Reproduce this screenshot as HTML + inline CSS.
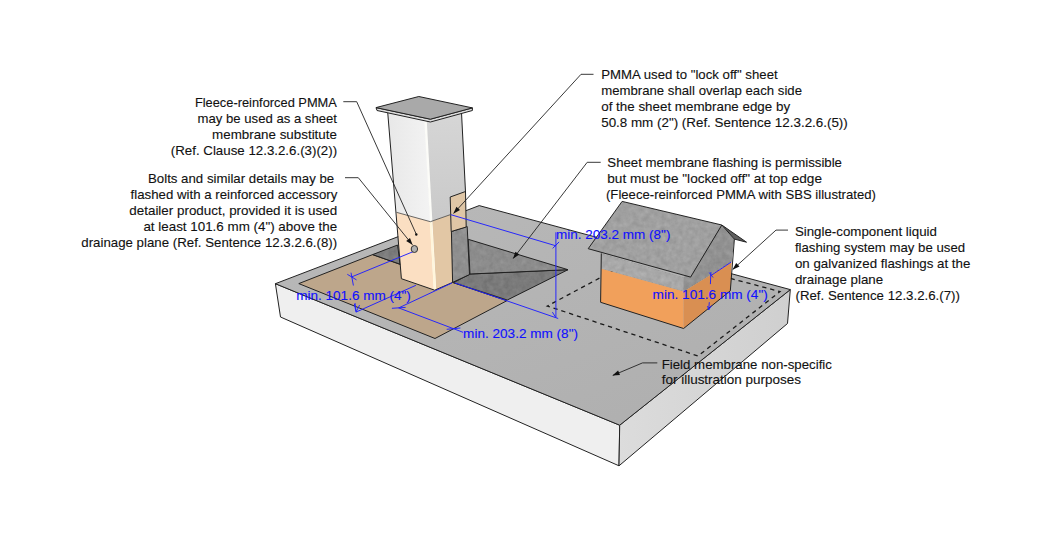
<!DOCTYPE html>
<html><head><meta charset="utf-8">
<style>
html,body{margin:0;padding:0;background:#fff;width:1050px;height:547px;overflow:hidden}
svg{display:block}
text{font-family:"Liberation Sans",sans-serif;font-size:13.5px;fill:#111;stroke:#111;stroke-width:0.12}
.b text{fill:#1010ff;stroke:#1010ff}
.ol{stroke:#222;stroke-width:1.0;stroke-linejoin:round}
.ld{stroke:#222;stroke-width:0.9;fill:none}
.bl{stroke:#2020ff;stroke-width:0.95;fill:none}
</style></head>
<body>
<svg width="1050" height="547" viewBox="0 0 1050 547">
<defs>
<marker id="ah" markerWidth="10" markerHeight="10" refX="0" refY="0" viewBox="-8 -4 9 8" orient="auto" markerUnits="userSpaceOnUse">
<path d="M0.5,0 L-6,-2.2 L-6,2.2 z" fill="#111"/></marker>
<linearGradient id="gTop" x1="0" y1="0" x2="1" y2="1">
<stop offset="0" stop-color="#b9b9b9"/><stop offset="1" stop-color="#aeaeae"/></linearGradient>
<linearGradient id="gRight" x1="0" y1="0" x2="1" y2="0">
<stop offset="0" stop-color="#dcdcdc"/><stop offset="1" stop-color="#cfcfcf"/></linearGradient>
<linearGradient id="gCL" x1="0" y1="0" x2="1" y2="0"><stop offset="0" stop-color="#e8e8e8"/><stop offset="1" stop-color="#f3f3f3"/></linearGradient>
<linearGradient id="gCR" x1="0" y1="0" x2="0" y2="1"><stop offset="0" stop-color="#d6d6d6"/><stop offset="1" stop-color="#c9c9c9"/></linearGradient>
<filter id="tex" x="0" y="0" width="100%" height="100%" color-interpolation-filters="sRGB">
<feTurbulence type="fractalNoise" baseFrequency="0.18" numOctaves="3" seed="7" result="n"/>
<feColorMatrix in="n" type="matrix" values="0.5 0.5 0 0 0  0.5 0.5 0 0 0  0.5 0.5 0 0 0  0 0 0 0 1" result="g"/>
<feComposite in="SourceGraphic" in2="g" operator="arithmetic" k1="0" k2="1" k3="0.16" k4="-0.08" result="m"/>
<feComposite in="m" in2="SourceGraphic" operator="in"/>
</filter>
</defs>

<!-- SLAB -->
<polygon class="ol" points="275.4,283.7 619.7,425.2 619,465.8 280.5,317" fill="#efefef"/>
<polygon class="ol" points="619.7,425.2 790.3,289.6 787.5,323.5 619,465.8" fill="url(#gRight)"/>
<polygon class="ol" points="275.4,283.7 479.2,205.6 790.3,289.6 619.7,425.2" fill="url(#gTop)"/>

<!-- tan membrane -->
<polygon class="ol" points="298.8,283.6 372.6,254.6 402,265 453.5,282.7 506.9,300.7 435,338.5" fill="#bda68b" stroke-width="0.9"/>
<!-- dark small -->
<polygon points="372.6,254.6 397.6,245 400,264.2" fill="#7c7c7c" filter="url(#tex)"/>
<polygon class="ol" points="372.6,254.6 397.6,245 400,264.2" fill="none" stroke-width="0.9"/>
<!-- dark big -->
<polygon points="470,274 568,269.7 507.3,300 453.5,282.7" fill="#7a7a7a" filter="url(#tex)"/>
<polygon class="ol" points="470,274 568,269.7 507.3,300 453.5,282.7" fill="none" stroke-width="0.9"/>
<polygon points="468.2,239.3 568,269.7 470,274" fill="#8c8c8c" filter="url(#tex)"/>
<polygon class="ol" points="468.2,239.3 568,269.7 470,274" fill="none" stroke-width="0.9"/>

<!-- dashed rect -->
<polyline points="642.8,255 547.3,306 698,356 780,291.6 642.8,255" fill="none" stroke="#1a1a1a" stroke-width="1.3" stroke-dasharray="4.3,3.9"/>

<!-- CHIMNEY -->
<!-- upper left face -->
<polygon points="387.6,111 425,120.5 430.4,221.7 396.4,212.3" fill="url(#gCL)"/>
<!-- upper right face -->
<polygon points="425,120.5 461.5,112.6 465.5,192 450.5,214.6 430.4,221.7" fill="url(#gCR)"/>
<!-- peach left -->
<polygon points="396.4,212.3 430.4,221.7 434.7,290.2 401.4,278.7" fill="#fbdfc2"/>
<!-- peach right -->
<polygon points="430.4,221.7 450.5,214.6 452.6,282.4 434.7,290.2" fill="#e2c7a5"/>
<!-- dark strip -->
<polygon points="451.4,231.5 467.2,226.5 469.5,274.6 452.6,282.4" fill="#8f8f8f" filter="url(#tex)"/>
<polygon class="ol" points="451.4,231.5 467.2,226.5 469.5,274.6 452.6,282.4" fill="none" stroke-width="0.9"/>
<!-- lock-off strip -->
<polygon class="ol" points="450.2,197 465.5,191.5 466.2,227 451.2,231.5" fill="#dfc6a6" stroke-width="0.9"/>
<!-- front highlight -->
<line x1="425.6" y1="121" x2="435" y2="290" stroke="#fcfcf8" stroke-width="2.4"/>
<line x1="430.8" y1="222" x2="435" y2="290" stroke="#fff6dc" stroke-width="2.2"/>
<!-- outlines -->
<polyline class="ol" fill="none" points="387.6,111 401.4,278.7 434.7,290.2 452.6,282.4"/>
<polyline class="ol" fill="none" points="461.5,112.6 465.5,192"/>
<polyline fill="none" stroke="#444" stroke-width="0.8" points="396.4,212.3 430.4,221.7 450.5,214.6"/>
<!-- cap -->
<polygon class="ol" points="376,107.6 430.4,119.2 472.4,107.9 472.4,110.5 430.4,122 377,110.5" fill="#dcdcdc" stroke-width="0.9"/>
<polygon class="ol" points="376,107.6 418.8,96.5 472.4,107.9 430.4,119.2" fill="#a9a9a9"/>

<!-- HOUSE -->
<!-- front wall -->
<polygon points="601.3,253.4 685,277.8 683.6,291.5 601.3,268.7" fill="#a8a8a8" filter="url(#tex)"/>
<polygon points="601.3,268.7 683.6,291.5 683.6,328.5 600.6,302.3" fill="#f1a05b"/>
<!-- right wall -->
<polygon points="683.6,277.8 721.8,225 734.4,239.1 731.7,262 683.6,291.5" fill="#919191" filter="url(#tex)"/>
<polygon points="683.6,291.5 731.7,262 730.3,290.8 683.6,328.5" fill="#d98f52"/>
<polyline class="ol" fill="none" points="600.6,302.3 683.6,328.5 730.3,290.8"/>
<polyline class="ol" fill="none" points="601.3,253.4 600.6,302.3"/>
<polyline class="ol" fill="none" points="734.4,239.1 730.3,290.8"/>
<!-- back roof sliver -->
<polygon class="ol" points="721.8,225 746.5,242.2 734.4,239.1" fill="#5e5e5e" stroke-width="1.3"/>
<!-- front roof -->
<polygon points="622.1,201.4 721.8,225 690.6,277.1 588.2,248.7" fill="#a0a0a0" filter="url(#tex)"/>
<polygon class="ol" points="622.1,201.4 721.8,225 690.6,277.1 588.2,248.7" fill="none" stroke-width="1.6"/>

<!-- BLUE DIMENSIONS -->
<g class="bl">
<polyline points="413.5,251.5 351.9,276.8"/>
<line x1="347.3" y1="274.3" x2="356.5" y2="279.9"/>
<line x1="351" y1="272.7" x2="353.4" y2="285.5"/>
<polyline points="415.9,285.3 356,312.1"/>
<polyline points="354.4,304 356,312.1 359.6,305"/>
<line x1="355" y1="303" x2="356" y2="311"/>
<line x1="398.7" y1="307.9" x2="452.1" y2="282.9"/>
<line x1="398.7" y1="307.9" x2="463" y2="332.3"/>
<line x1="391.9" y1="308.3" x2="405.6" y2="307.4"/>
<line x1="446.7" y1="329.3" x2="460.4" y2="328"/>
<line x1="454.8" y1="282.9" x2="558.2" y2="318.5"/>
<line x1="555.9" y1="232.3" x2="555.9" y2="317.5"/>
<polyline points="552.4,312.1 555.6,317.2"/>
<line x1="450.9" y1="214.7" x2="555.9" y2="245.8"/>
<line x1="552.7" y1="248.4" x2="559.1" y2="241.9"/>
<line x1="731.2" y1="262.1" x2="710.4" y2="275.9"/>
<line x1="709.3" y1="272.6" x2="713.1" y2="277.5"/>
<line x1="710.9" y1="272" x2="710.4" y2="284.1"/>
<line x1="709.3" y1="302.2" x2="708.7" y2="309.9"/>
<polyline points="707.6,306 708.7,309.9 711.5,305.5"/>
</g>

<!-- LEADERS -->
<g class="ld">
<polyline points="343.3,101.7 356.7,101.7 416.3,234.3"/>
<polyline points="345,177.7 358.3,177.7 412.3,244.6" marker-end="url(#ah)"/>
<polyline points="593.5,74.3 581,74.3 453.7,213.3" marker-end="url(#ah)"/>
<polyline points="600.7,162.3 587.2,162.3 513.3,258.4" marker-end="url(#ah)"/>
<polyline points="788,230.1 776,230.1 732.9,269.3" marker-end="url(#ah)"/>
<polyline points="657.3,362.9 642.5,362.9 612.9,375.4" marker-end="url(#ah)"/>
</g>
<circle cx="416.3" cy="234.5" r="1.2" fill="#111"/>
<ellipse cx="414.4" cy="249" rx="3.2" ry="3.5" fill="#b0b0b0" stroke="#333" stroke-width="1"/>

<!-- TEXT -->
<g class="tx">
<text x="336.9" y="107.3" text-anchor="end" textLength="142.0" lengthAdjust="spacingAndGlyphs">Fleece-reinforced PMMA</text>
<text x="337.0" y="123.3" text-anchor="end" textLength="139.4" lengthAdjust="spacingAndGlyphs">may be used as a sheet</text>
<text x="336.9" y="138.9" text-anchor="end" textLength="124.8" lengthAdjust="spacingAndGlyphs">membrane substitute</text>
<text x="337.1" y="155.0" text-anchor="end" textLength="166.3" lengthAdjust="spacingAndGlyphs">(Ref. Clause 12.3.2.6.(3)(2))</text>
<text x="334.2" y="183.2" text-anchor="end" textLength="186.2" lengthAdjust="spacingAndGlyphs">Bolts and similar details may be</text>
<text x="337.4" y="198.9" text-anchor="end" textLength="206.8" lengthAdjust="spacingAndGlyphs">flashed with a reinforced accessory</text>
<text x="337.2" y="214.9" text-anchor="end" textLength="207.9" lengthAdjust="spacingAndGlyphs">detailer product, provided it is used</text>
<text x="337.2" y="230.9" text-anchor="end" textLength="193.8" lengthAdjust="spacingAndGlyphs">at least 101.6 mm (4") above the</text>
<text x="337.2" y="246.9" text-anchor="end" textLength="255.9" lengthAdjust="spacingAndGlyphs">drainage plane (Ref. Sentence 12.3.2.6.(8))</text>
<text x="601.2" y="79.4" textLength="176.5" lengthAdjust="spacingAndGlyphs">PMMA used to "lock off" sheet</text>
<text x="601.2" y="95.1" textLength="200.8" lengthAdjust="spacingAndGlyphs">membrane shall overlap each side</text>
<text x="601.2" y="111.0" textLength="188.9" lengthAdjust="spacingAndGlyphs">of the sheet membrane edge by</text>
<text x="601.2" y="127.1" textLength="246.6" lengthAdjust="spacingAndGlyphs">50.8 mm (2") (Ref. Sentence 12.3.2.6.(5))</text>
<text x="607.3" y="167.2" textLength="234.7" lengthAdjust="spacingAndGlyphs">Sheet membrane flashing is permissible</text>
<text x="607.3" y="183.2" textLength="214.7" lengthAdjust="spacingAndGlyphs">but must be "locked off" at top edge</text>
<text x="606.0" y="198.8" textLength="269.9" lengthAdjust="spacingAndGlyphs">(Fleece-reinforced PMMA with SBS illustrated)</text>
<text x="794.9" y="235.8" textLength="142.0" lengthAdjust="spacingAndGlyphs">Single-component liquid</text>
<text x="794.9" y="251.7" textLength="170.2" lengthAdjust="spacingAndGlyphs">flashing system may be used</text>
<text x="794.9" y="267.6" textLength="175.5" lengthAdjust="spacingAndGlyphs">on galvanized flashings at the</text>
<text x="794.9" y="283.6" textLength="88.3" lengthAdjust="spacingAndGlyphs">drainage plane</text>
<text x="795.5" y="299.5" textLength="164.4" lengthAdjust="spacingAndGlyphs">(Ref. Sentence 12.3.2.6.(7))</text>
<text x="661.7" y="368.7" textLength="170.2" lengthAdjust="spacingAndGlyphs">Field membrane non-specific</text>
<text x="661.7" y="384.3" textLength="139.3" lengthAdjust="spacingAndGlyphs">for illustration purposes</text>
</g>
<g class="b">
<text x="296.2" y="300.1" textLength="114.7" lengthAdjust="spacingAndGlyphs">min. 101.6 mm (4")</text>
<text x="463.1" y="338.0" textLength="114.9" lengthAdjust="spacingAndGlyphs">min. 203.2 mm (8")</text>
<text x="556.1" y="238.5" textLength="114.3" lengthAdjust="spacingAndGlyphs">min. 203.2 mm (8")</text>
<text x="652.6" y="298.6" textLength="115.2" lengthAdjust="spacingAndGlyphs">min. 101.6 mm (4")</text>
</g>
</svg>
</body></html>
